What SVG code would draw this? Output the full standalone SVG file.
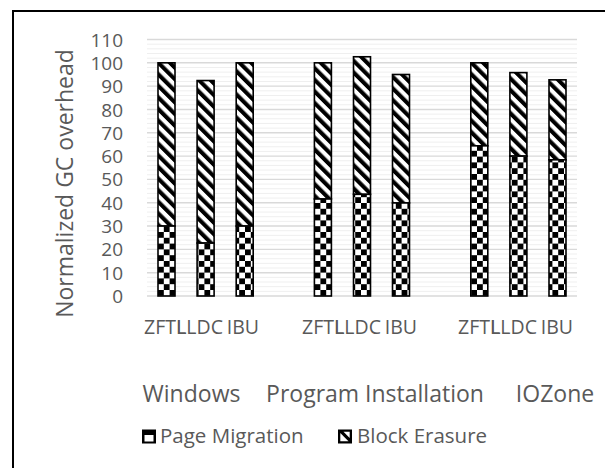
<svg xmlns="http://www.w3.org/2000/svg" width="605" height="468" viewBox="0 0 605 468">
  <style>
    .txt { font-family: "Open Sans", "Noto Sans", "DejaVu Sans", sans-serif; fill: #595959; }
    .tick { font-size: 19px; text-anchor: end; }
    .cat { font-size: 19.5px; }
    .grp { font-size: 23px; text-anchor: middle; }
    .leg { font-size: 20.5px; }
    .major { stroke: #d9d9d9; stroke-width: 1.4; }
    .minor { stroke: #efefef; stroke-width: 1; }
    .pm { fill: url(#checker); stroke: #000; stroke-width: 1.6; }
    .be { fill: url(#stripes); stroke: #000; stroke-width: 1.6; }
  </style>
  <defs>
    <pattern id="checker" patternUnits="userSpaceOnUse" x="158" y="0" width="11.6" height="11.6">
      <rect width="11.6" height="11.6" fill="#fff"/>
      <rect width="5.8" height="5.8" fill="#000"/>
      <rect x="5.8" y="5.8" width="5.8" height="5.8" fill="#000"/>
    </pattern>
    <pattern id="stripes" patternUnits="userSpaceOnUse" width="8.2" height="8.2" patternTransform="rotate(-45)">
      <rect width="8.2" height="8.2" fill="#fff"/>
      <rect width="4.1" height="8.2" fill="#000"/>
    </pattern>
  </defs>

  <rect id="background" width="605" height="468" fill="#fff"/>
  <!-- chart frame (left and top edges) -->
  <rect id="frame" x="13" y="11" width="700" height="600" fill="none" stroke="#000" stroke-width="2"/>

  <!-- gridlines -->
  <g id="minor-grid">
    <line class="minor" x1="147" x2="577" y1="291.34" y2="291.34"/>
    <line class="minor" x1="147" x2="577" y1="286.67" y2="286.67"/>
    <line class="minor" x1="147" x2="577" y1="282.01" y2="282.01"/>
    <line class="minor" x1="147" x2="577" y1="277.35" y2="277.35"/>
    <line class="minor" x1="147" x2="577" y1="268.02" y2="268.02"/>
    <line class="minor" x1="147" x2="577" y1="263.36" y2="263.36"/>
    <line class="minor" x1="147" x2="577" y1="258.69" y2="258.69"/>
    <line class="minor" x1="147" x2="577" y1="254.03" y2="254.03"/>
    <line class="minor" x1="147" x2="577" y1="244.70" y2="244.70"/>
    <line class="minor" x1="147" x2="577" y1="240.04" y2="240.04"/>
    <line class="minor" x1="147" x2="577" y1="235.38" y2="235.38"/>
    <line class="minor" x1="147" x2="577" y1="230.71" y2="230.71"/>
    <line class="minor" x1="147" x2="577" y1="221.39" y2="221.39"/>
    <line class="minor" x1="147" x2="577" y1="216.72" y2="216.72"/>
    <line class="minor" x1="147" x2="577" y1="212.06" y2="212.06"/>
    <line class="minor" x1="147" x2="577" y1="207.40" y2="207.40"/>
    <line class="minor" x1="147" x2="577" y1="198.07" y2="198.07"/>
    <line class="minor" x1="147" x2="577" y1="193.41" y2="193.41"/>
    <line class="minor" x1="147" x2="577" y1="188.74" y2="188.74"/>
    <line class="minor" x1="147" x2="577" y1="184.08" y2="184.08"/>
    <line class="minor" x1="147" x2="577" y1="174.75" y2="174.75"/>
    <line class="minor" x1="147" x2="577" y1="170.09" y2="170.09"/>
    <line class="minor" x1="147" x2="577" y1="165.43" y2="165.43"/>
    <line class="minor" x1="147" x2="577" y1="160.76" y2="160.76"/>
    <line class="minor" x1="147" x2="577" y1="151.43" y2="151.43"/>
    <line class="minor" x1="147" x2="577" y1="146.77" y2="146.77"/>
    <line class="minor" x1="147" x2="577" y1="142.11" y2="142.11"/>
    <line class="minor" x1="147" x2="577" y1="137.44" y2="137.44"/>
    <line class="minor" x1="147" x2="577" y1="128.11" y2="128.11"/>
    <line class="minor" x1="147" x2="577" y1="123.45" y2="123.45"/>
    <line class="minor" x1="147" x2="577" y1="118.79" y2="118.79"/>
    <line class="minor" x1="147" x2="577" y1="114.12" y2="114.12"/>
    <line class="minor" x1="147" x2="577" y1="104.79" y2="104.79"/>
    <line class="minor" x1="147" x2="577" y1="100.13" y2="100.13"/>
    <line class="minor" x1="147" x2="577" y1="95.47" y2="95.47"/>
    <line class="minor" x1="147" x2="577" y1="90.80" y2="90.80"/>
    <line class="minor" x1="147" x2="577" y1="81.47" y2="81.47"/>
    <line class="minor" x1="147" x2="577" y1="76.81" y2="76.81"/>
    <line class="minor" x1="147" x2="577" y1="72.15" y2="72.15"/>
    <line class="minor" x1="147" x2="577" y1="67.48" y2="67.48"/>
    <line class="minor" x1="147" x2="577" y1="58.16" y2="58.16"/>
    <line class="minor" x1="147" x2="577" y1="53.49" y2="53.49"/>
    <line class="minor" x1="147" x2="577" y1="48.83" y2="48.83"/>
    <line class="minor" x1="147" x2="577" y1="44.17" y2="44.17"/>
  </g>
  <g id="major-grid">
    <line class="major" x1="147" x2="577" y1="296" y2="296"/>
    <line class="major" x1="147" x2="577" y1="272.68" y2="272.68"/>
    <line class="major" x1="147" x2="577" y1="249.36" y2="249.36"/>
    <line class="major" x1="147" x2="577" y1="226.05" y2="226.05"/>
    <line class="major" x1="147" x2="577" y1="202.73" y2="202.73"/>
    <line class="major" x1="147" x2="577" y1="179.41" y2="179.41"/>
    <line class="major" x1="147" x2="577" y1="156.09" y2="156.09"/>
    <line class="major" x1="147" x2="577" y1="132.77" y2="132.77"/>
    <line class="major" x1="147" x2="577" y1="109.45" y2="109.45"/>
    <line class="major" x1="147" x2="577" y1="86.14" y2="86.14"/>
    <line class="major" x1="147" x2="577" y1="62.82" y2="62.82"/>
    <line class="major" x1="147" x2="577" y1="39.5" y2="39.5"/>
  </g>

  <!-- value axis labels -->
  <g id="y-axis" class="txt tick">
    <text x="123" y="303">0</text>
    <text x="123" y="279.7">10</text>
    <text x="123" y="256.4">20</text>
    <text x="123" y="233">30</text>
    <text x="123" y="209.7">40</text>
    <text x="123" y="186.4">50</text>
    <text x="123" y="163.1">60</text>
    <text x="123" y="139.8">70</text>
    <text x="123" y="116.5">80</text>
    <text x="123" y="93.1">90</text>
    <text x="123" y="69.8">100</text>
    <text x="123" y="46.5">110</text>
  </g>
  <text id="y-title" class="txt" font-size="23" text-anchor="middle" transform="translate(73,183.5) rotate(-90)">Normalized GC overhead</text>

  <!-- stacked bars: lower = Page Migration, upper = Block Erasure -->
  <g id="bars-windows">
    <g id="windows-zftl">
      <rect class="be" x="158" y="62.82" width="17" height="163.23"/>
      <rect class="pm" x="158" y="226.05" width="17" height="69.95"/>
    </g>
    <g id="windows-lldc">
      <rect class="be" x="197.1" y="80.54" width="17" height="162.53"/>
      <rect class="pm" x="197.1" y="243.07" width="17" height="52.93"/>
    </g>
    <g id="windows-ibu">
      <rect class="be" x="236.2" y="62.82" width="17" height="163.23"/>
      <rect class="pm" x="236.2" y="226.05" width="17" height="69.95"/>
    </g>
  </g>
  <g id="bars-install">
    <g id="install-zftl">
      <rect class="be" x="314.4" y="62.82" width="17" height="136.18"/>
      <rect class="pm" x="314.4" y="199.0" width="17" height="97"/>
    </g>
    <g id="install-lldc">
      <rect class="be" x="353.5" y="56.76" width="17" height="137.57"/>
      <rect class="pm" x="353.5" y="194.33" width="17" height="101.67"/>
    </g>
    <g id="install-ibu">
      <rect class="be" x="392.5" y="74.48" width="17" height="128.48"/>
      <rect class="pm" x="392.5" y="202.96" width="17" height="93.04"/>
    </g>
  </g>
  <g id="bars-iozone">
    <g id="iozone-zftl">
      <rect class="be" x="470.8" y="62.82" width="17" height="83.01"/>
      <rect class="pm" x="470.8" y="145.83" width="17" height="150.17"/>
    </g>
    <g id="iozone-lldc">
      <rect class="be" x="509.9" y="72.61" width="17" height="83.48"/>
      <rect class="pm" x="509.9" y="156.09" width="17" height="139.91"/>
    </g>
    <g id="iozone-ibu">
      <rect class="be" x="549" y="79.84" width="17" height="79.98"/>
      <rect class="pm" x="549" y="159.82" width="17" height="136.18"/>
    </g>
  </g>

  <!-- category axis labels (crowded: neighbouring labels run into each other) -->
  <g id="x-axis" class="txt cat">
    <text x="144" y="334">ZFTL</text>
    <text x="176.2" y="334">LLDC</text>
    <text x="226.7" y="334">IBU</text>
    <text x="302" y="334">ZFTL</text>
    <text x="334.2" y="334">LLDC</text>
    <text x="384.7" y="334">IBU</text>
    <text x="458" y="334">ZFTL</text>
    <text x="490.2" y="334">LLDC</text>
    <text x="540.7" y="334">IBU</text>
  </g>
  <g id="group-labels" class="txt grp">
    <text x="191.5" y="402">Windows</text>
    <text x="375" y="402">Program Installation</text>
    <text x="555" y="402">IOZone</text>
  </g>

  <!-- legend -->
  <g id="legend-page-migration">
    <rect x="142" y="429.5" width="14" height="14" fill="#000"/>
    <rect x="144.5" y="435" width="9" height="6.5" fill="#fff"/>
    <text class="txt leg" x="160" y="443">Page Migration</text>
  </g>
  <g id="legend-block-erasure">
    <rect x="338" y="429.5" width="14" height="14" fill="#000"/>
    <polygon points="340.3,433 340.3,441.2 348.5,441.2" fill="#fff"/>
    <polygon points="343.5,431.8 349.7,431.8 349.7,438" fill="#fff"/>
    <text class="txt leg" x="357" y="443">Block Erasure</text>
  </g>
</svg>
